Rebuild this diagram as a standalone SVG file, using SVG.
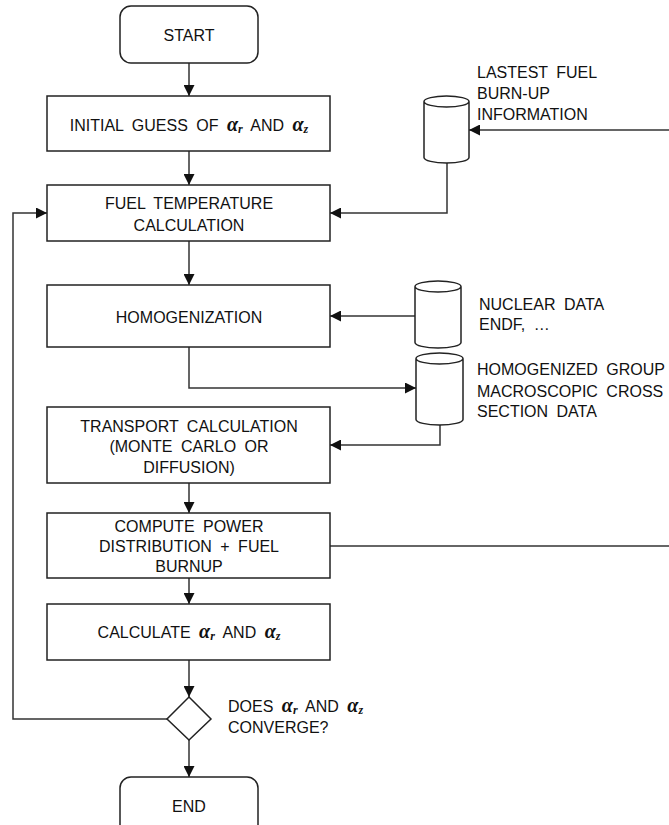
<svg xmlns="http://www.w3.org/2000/svg" width="669" height="825" viewBox="0 0 669 825">
  <defs>
    <style>
      .box { fill: #fff; stroke: #222; stroke-width: 1.5; }
      .wire { fill: none; stroke: #333; stroke-width: 1.5; }
      .t { font-family: "Liberation Sans", Arial, sans-serif; font-size: 16px; fill: #111; word-spacing: 4px; }
      .c { text-anchor: middle; }
      .g { font-family: "Liberation Serif", "Times New Roman", serif; font-weight: bold; font-style: italic; font-size: 20px; }
      .s { font-family: "Liberation Serif", "Times New Roman", serif; font-weight: bold; font-style: italic; font-size: 12px; }
    </style>
    <marker id="arrow" markerUnits="userSpaceOnUse" markerWidth="11" markerHeight="11" viewBox="0 0 10 10" refX="10" refY="5" orient="auto">
      <path d="M0,0 L10,5 L0,10 Z" fill="#111"/>
    </marker>
  </defs>

  <!-- connectors -->
  <g id="connectors">
    <path class="wire" d="M189,63 V96" marker-end="url(#arrow)"/>
    <path class="wire" d="M189,151 V185" marker-end="url(#arrow)"/>
    <path class="wire" d="M189,241 V285" marker-end="url(#arrow)"/>
    <path class="wire" d="M669,130 H469" marker-end="url(#arrow)"/>
    <path class="wire" d="M447,163 V213 H330" marker-end="url(#arrow)"/>
    <path class="wire" d="M415,316 H330" marker-end="url(#arrow)"/>
    <path class="wire" d="M189,347 V388 H416" marker-end="url(#arrow)"/>
    <path class="wire" d="M440,425 V445 H330" marker-end="url(#arrow)"/>
    <path class="wire" d="M189,483 V513" marker-end="url(#arrow)"/>
    <path class="wire" d="M330,546 H669"/>
    <path class="wire" d="M189,578 V604" marker-end="url(#arrow)"/>
    <path class="wire" d="M189,660 V697" marker-end="url(#arrow)"/>
    <path class="wire" d="M167,719 H13 V213 H47" marker-end="url(#arrow)"/>
    <path class="wire" d="M189,740 V777" marker-end="url(#arrow)"/>
  </g>

  <!-- start terminal -->
  <g id="start">
    <rect class="box" x="120" y="6" width="138" height="57" rx="11"/>
    <text class="t c" x="189" y="41">START</text>
  </g>

  <g id="initial-guess">
    <rect class="box" x="47" y="96" width="283" height="55"/>
    <text class="t c" x="189" y="131">INITIAL GUESS OF <tspan class="g">α</tspan><tspan class="s" dy="2">r</tspan><tspan dy="-2"> AND </tspan><tspan class="g">α</tspan><tspan class="s" dy="2">z</tspan></text>
  </g>

  <g id="fuel-temperature">
    <rect class="box" x="47" y="185" width="283" height="56"/>
    <text class="t c" x="189" y="209">FUEL TEMPERATURE</text>
    <text class="t c" x="189" y="231">CALCULATION</text>
  </g>

  <g id="homogenization">
    <rect class="box" x="47" y="285" width="283" height="62"/>
    <text class="t c" x="189" y="323">HOMOGENIZATION</text>
  </g>

  <g id="transport">
    <rect class="box" x="47" y="407" width="283" height="76"/>
    <text class="t c" x="189" y="432">TRANSPORT CALCULATION</text>
    <text class="t c" x="189" y="452">(MONTE CARLO OR</text>
    <text class="t c" x="189" y="473">DIFFUSION)</text>
  </g>

  <g id="power-burnup">
    <rect class="box" x="47" y="513" width="283" height="65"/>
    <text class="t c" x="189" y="532">COMPUTE POWER</text>
    <text class="t c" x="189" y="552">DISTRIBUTION + FUEL</text>
    <text class="t c" x="189" y="572">BURNUP</text>
  </g>

  <g id="calculate-alpha">
    <rect class="box" x="47" y="604" width="283" height="56"/>
    <text class="t c" x="189" y="638">CALCULATE <tspan class="g">α</tspan><tspan class="s" dy="2">r</tspan><tspan dy="-2"> AND </tspan><tspan class="g">α</tspan><tspan class="s" dy="2">z</tspan></text>
  </g>

  <g id="converge">
    <path class="box" d="M189,697 L211,719 L189,740 L167,719 Z"/>
    <text class="t" x="228" y="712">DOES <tspan class="g">α</tspan><tspan class="s" dy="2">r</tspan><tspan dy="-2"> AND </tspan><tspan class="g">α</tspan><tspan class="s" dy="2">z</tspan></text>
    <text class="t" x="228" y="733">CONVERGE?</text>
  </g>

  <g id="end">
    <rect class="box" x="120" y="777" width="138" height="60" rx="11"/>
    <text class="t c" x="189" y="812">END</text>
  </g>

  <!-- data stores -->
  <g id="burnup-store">
    <path class="box" d="M424,101.5 A22.5,5.5 0 0 1 469,101.5 A22.5,5.5 0 0 1 424,101.5 V157.5 A22.5,5.5 0 0 0 469,157.5 V101.5"/>
    <text class="t" x="477" y="78">LASTEST FUEL</text>
    <text class="t" x="477" y="99">BURN-UP</text>
    <text class="t" x="477" y="120">INFORMATION</text>
  </g>

  <g id="nuclear-data">
    <path class="box" d="M415,286.5 A23,5.5 0 0 1 461,286.5 A23,5.5 0 0 1 415,286.5 V342.5 A23,5.5 0 0 0 461,342.5 V286.5"/>
    <text class="t" x="479" y="310">NUCLEAR DATA</text>
    <text class="t" x="479" y="330">ENDF, …</text>
  </g>

  <g id="xs-data">
    <path class="box" d="M416,358.5 A23.5,5.5 0 0 1 463,358.5 A23.5,5.5 0 0 1 416,358.5 V419.5 A23.5,5.5 0 0 0 463,419.5 V358.5"/>
    <text class="t" x="477" y="375">HOMOGENIZED GROUP</text>
    <text class="t" x="477" y="397">MACROSCOPIC CROSS</text>
    <text class="t" x="477" y="417">SECTION DATA</text>
  </g>
</svg>
